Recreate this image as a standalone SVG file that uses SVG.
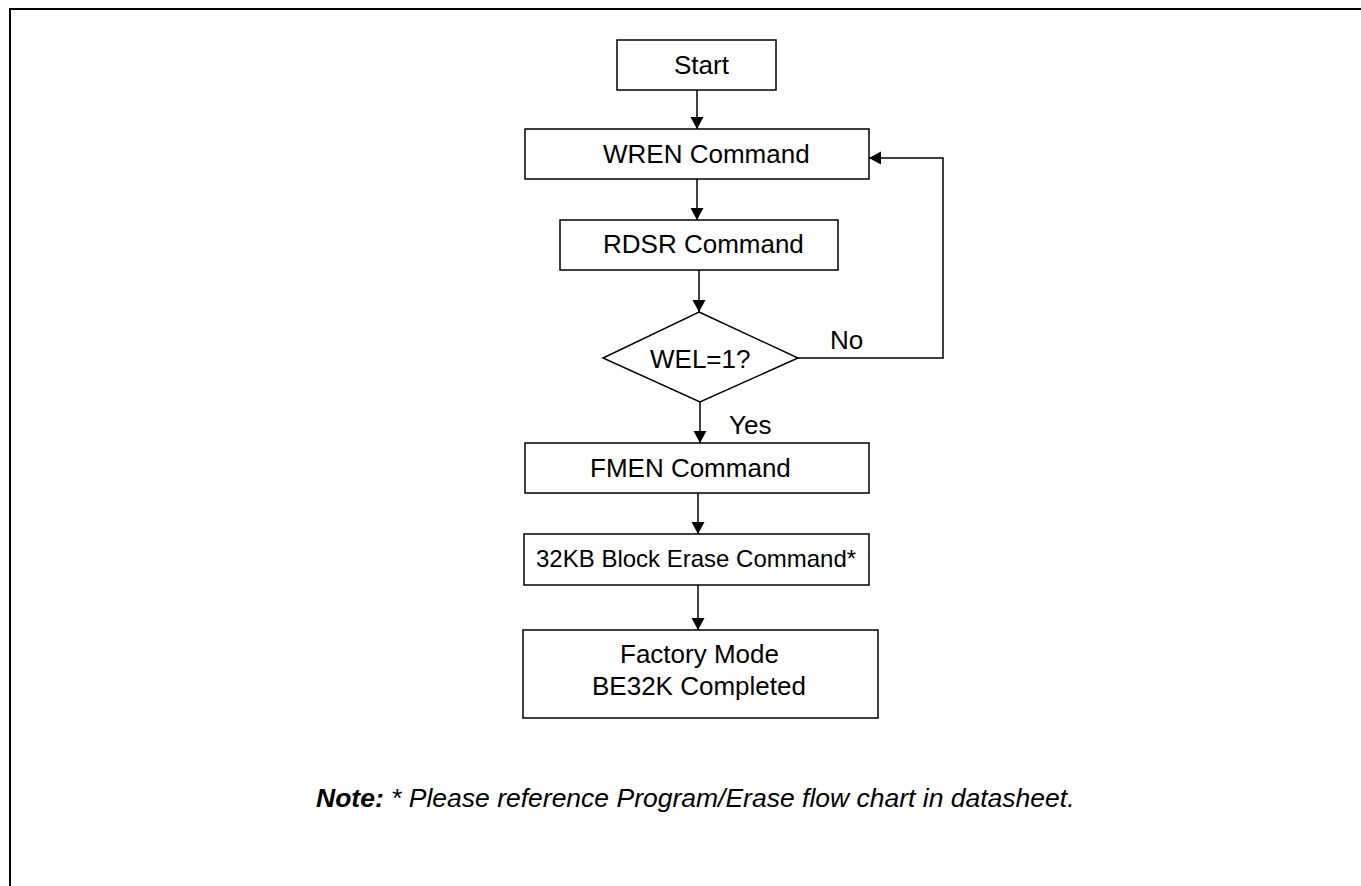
<svg xmlns="http://www.w3.org/2000/svg" width="1361" height="886" viewBox="0 0 1361 886">
<style>
.box{fill:#fff;stroke:#000;stroke-width:1.5}
.t{font-family:"Liberation Sans",Arial,sans-serif;font-size:26px;fill:#000}
.s{font-size:24px}
.con{fill:none;stroke:#000;stroke-width:1.5}
.note{font-family:"Liberation Sans",Arial,sans-serif;font-size:26.5px;font-style:italic;fill:#000}
</style>
<defs>
<marker id="arr" markerUnits="userSpaceOnUse" markerWidth="14" markerHeight="14" refX="12" refY="6.5" orient="auto">
<path d="M0,0 L12,6.5 L0,13 Z" fill="#000"/>
</marker>
</defs>
<rect width="1361" height="886" fill="#fff"/>
<path d="M10,886 V9 H1361" fill="none" stroke="#000" stroke-width="2"/>
<g id="connectors">
<line class="con" x1="697" y1="90" x2="697" y2="129" marker-end="url(#arr)"/>
<line class="con" x1="697" y1="179" x2="697" y2="220" marker-end="url(#arr)"/>
<line class="con" x1="699" y1="270" x2="699" y2="312" marker-end="url(#arr)"/>
<line class="con" x1="700" y1="402" x2="700" y2="443" marker-end="url(#arr)"/>
<line class="con" x1="698" y1="493" x2="698" y2="534" marker-end="url(#arr)"/>
<line class="con" x1="698" y1="585" x2="698" y2="630" marker-end="url(#arr)"/>
<polyline class="con" points="798,358 943,358 943,158 869,158" marker-end="url(#arr)"/>
<text class="t" x="830" y="349">No</text>
<text class="t" x="729" y="434">Yes</text>
</g>
<g id="start">
<rect class="box" x="617" y="40" width="159" height="50"/>
<text class="t" x="674" y="74">Start</text>
</g>
<g id="wren">
<rect class="box" x="525" y="129" width="344" height="50"/>
<text class="t" x="603" y="163">WREN Command</text>
</g>
<g id="rdsr">
<rect class="box" x="560" y="220" width="278" height="50"/>
<text class="t" x="603" y="253">RDSR Command</text>
</g>
<g id="wel">
<polygon class="box" points="699,312 798,358 700,402 603,358"/>
<text class="t" x="650" y="368">WEL=1?</text>
</g>
<g id="fmen">
<rect class="box" x="525" y="443" width="344" height="50"/>
<text class="t" x="590" y="477">FMEN Command</text>
</g>
<g id="be32">
<rect class="box" x="524" y="534" width="345" height="51"/>
<text class="t s" x="536" y="567">32KB Block Erase Command*</text>
</g>
<g id="done">
<rect class="box" x="523" y="630" width="355" height="88"/>
<text class="t" x="620" y="663">Factory Mode</text>
<text class="t" x="592" y="695">BE32K Completed</text>
</g>
<text class="note" x="316" y="807"><tspan font-weight="bold">Note:</tspan> * Please reference Program/Erase flow chart in datasheet.</text>
</svg>
